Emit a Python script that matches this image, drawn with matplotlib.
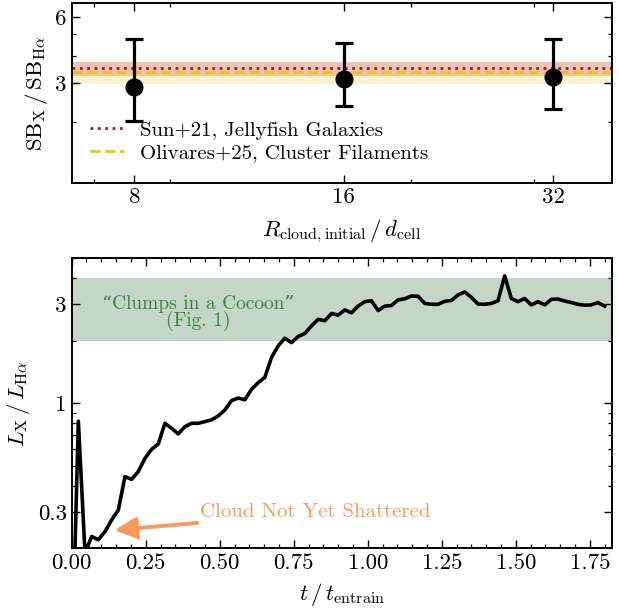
import matplotlib
matplotlib.use("Agg")
import matplotlib.pyplot as plt
import numpy as np
from matplotlib.ticker import NullFormatter

plt.rcParams['font.family'] = 'serif'
plt.rcParams['font.serif'] = ['cmr10', 'DejaVu Serif']
plt.rcParams['mathtext.fontset'] = 'cm'
plt.rcParams['axes.formatter.use_mathtext'] = True
plt.rcParams['font.size'] = 16.5

# top panel: resolution study
res = [8, 16, 32]
sb_ratio = [2.87, 3.13, 3.20]
sb_upper = [4.75, 4.58, 4.75]
sb_lower = [2.02, 2.36, 2.28]

sun_mid, sun_lo, sun_hi = 3.5, 3.22, 3.75
oli_mid, oli_lo, oli_hi = 3.36, 2.97, 3.75

# bottom panel: time evolution
t = [0.0, 0.0225, 0.045, 0.0675, 0.09, 0.1125, 0.135, 0.1575, 0.18, 0.2025,
     0.225, 0.2475, 0.27, 0.2925, 0.315, 0.3375, 0.36, 0.3825, 0.405, 0.4275,
     0.45, 0.4725, 0.495, 0.5175, 0.54, 0.5625, 0.585, 0.6075, 0.63, 0.6525,
     0.675, 0.6975, 0.72, 0.7425, 0.765, 0.7875, 0.81, 0.8325, 0.855, 0.8775,
     0.9, 0.9225, 0.945, 0.9675, 0.99, 1.0125, 1.035, 1.0575, 1.08, 1.1025,
     1.125, 1.1475, 1.17, 1.1925, 1.215, 1.2375, 1.26, 1.2825, 1.305, 1.3275,
     1.35, 1.3725, 1.395, 1.4175, 1.44, 1.4625, 1.485, 1.5075, 1.53, 1.5525,
     1.575, 1.5975, 1.62, 1.6425, 1.665, 1.6875, 1.71, 1.7325, 1.755, 1.7775,
     1.8]
lum_ratio = [0.05, 0.82, 0.19, 0.228, 0.220, 0.241, 0.274, 0.306, 0.443, 0.430,
             0.469, 0.543, 0.600, 0.637, 0.801, 0.758, 0.712, 0.772, 0.801, 0.801,
             0.816, 0.832, 0.869, 0.929, 1.03, 1.06, 1.04, 1.168, 1.258, 1.334,
             1.665, 1.89, 2.06, 1.96, 2.10, 2.17, 2.36, 2.54, 2.50, 2.71,
             2.66, 2.82, 2.73, 2.94, 3.09, 3.12, 2.80, 2.94, 2.96, 3.15,
             3.19, 3.29, 3.28, 3.03, 3.00, 3.00, 3.10, 3.13, 3.33, 3.44,
             3.24, 3.01, 3.00, 3.03, 3.12, 4.11, 3.20, 3.09, 3.20, 2.98,
             3.09, 2.98, 3.17, 3.18, 3.11, 3.06, 3.00, 2.97, 2.98, 3.06,
             2.94]
cocoon_lo, cocoon_hi = 2.0, 4.0

sun_color = '#a3104a'
oli_color = '#f5c400'
green_text = '#3f7f3f'
orange = '#f89a5b'

fig = plt.figure(figsize=(6.19, 6.10), dpi=100)
ax1 = fig.add_axes([0.1158, 0.700, 0.8729, 0.295])
ax2 = fig.add_axes([0.1158, 0.1011, 0.8729, 0.4755])


def style_axis(ax):
    ax.tick_params(which='both', direction='in', top=True, right=True)
    ax.tick_params(which='major', length=5.5, width=1.0)
    ax.tick_params(which='minor', length=3.2, width=0.9)
    for sp in ax.spines.values():
        sp.set_linewidth(1.4)


# ---- top panel ----
ax1.axhspan(oli_lo, oli_hi, color=oli_color, alpha=0.2, lw=0, zorder=1)
ax1.axhspan(sun_lo, sun_hi, color=sun_color, alpha=0.2, lw=0, zorder=1)
ax1.axhline(sun_mid, color=sun_color, ls=':', lw=2, zorder=2,
            label='Sun+21, Jellyfish Galaxies')
ax1.axhline(oli_mid, color=oli_color, ls='--', lw=2, zorder=2,
            label='Olivares+25, Cluster Filaments')

yerr = [np.array(sb_ratio) - np.array(sb_lower), np.array(sb_upper) - np.array(sb_ratio)]
ax1.errorbar(res, sb_ratio, yerr=yerr, fmt='o', color='black', ms=12,
             elinewidth=2.3, capsize=6.5, capthick=2.3, zorder=5)

ax1.set_xscale('log')
ax1.set_yscale('log')
ax1.set_xlim(6.5, 38.9)
ax1.set_ylim(1.05, 6.95)
ax1.set_xticks([8, 16, 32], labels=['8', '16', '32'])
ax1.set_yticks([3, 6], labels=['3', '6'])
ax1.xaxis.set_minor_formatter(NullFormatter())
ax1.yaxis.set_minor_formatter(NullFormatter())
style_axis(ax1)
ax1.set_xlabel(r'$R_\mathrm{cloud,initial}\,/\,d_\mathrm{cell}$', labelpad=7)
ax1.set_ylabel(r'$\mathrm{SB}_\mathrm{X}\,/\,\mathrm{SB}_{\mathrm{H}\alpha}$')
ax1.legend(loc='lower left', frameon=False, fontsize=15, handlelength=1.6,
           handletextpad=0.8, labelspacing=0.2, bbox_to_anchor=(0.0, 0.01))

# ---- bottom panel ----
ax2.axhspan(cocoon_lo, cocoon_hi, color='#c4d6c5', lw=0, zorder=1)
ax2.plot(t, lum_ratio, color='black', lw=2.6, zorder=3)
ax2.text(0.427, 2.72, '\u201cClumps in a Cocoon\u201d\n(Fig. 1)', color=green_text,
         ha='center', va='center', fontsize=14, linespacing=0.85,
         family=['cmr10', 'DejaVu Serif'], zorder=4)

ax2.annotate('', xy=(0.145, 0.245), xytext=(0.425, 0.265),
             arrowprops=dict(arrowstyle='-|>,head_length=0.8,head_width=0.4',
                             color=orange, lw=2.8, shrinkA=0, shrinkB=0), zorder=4)
ax2.text(0.435, 0.30, 'Cloud Not Yet Shattered', color=orange, ha='left',
         va='center', fontsize=15, zorder=4)

ax2.set_yscale('log')
ax2.set_xlim(0, 1.825)
ax2.set_ylim(0.2, 5.0)
ax2.set_xticks([0.0, 0.25, 0.5, 0.75, 1.0, 1.25, 1.5, 1.75],
               labels=['0.00', '0.25', '0.50', '0.75', '1.00', '1.25', '1.50', '1.75'])
ax2.set_xticks(np.arange(0, 1.82, 0.05), minor=True)
ax2.set_yticks([0.3, 1, 3], labels=['0.3', '1', '3'])
ax2.yaxis.set_minor_formatter(NullFormatter())
style_axis(ax2)
ax2.set_xlabel(r'$t\,/\,t_\mathrm{entrain}$', labelpad=6)
ax2.set_ylabel(r'$L_\mathrm{X}\,/\,L_{\mathrm{H}\alpha}$')

fig.savefig('out.png', dpi=100)
